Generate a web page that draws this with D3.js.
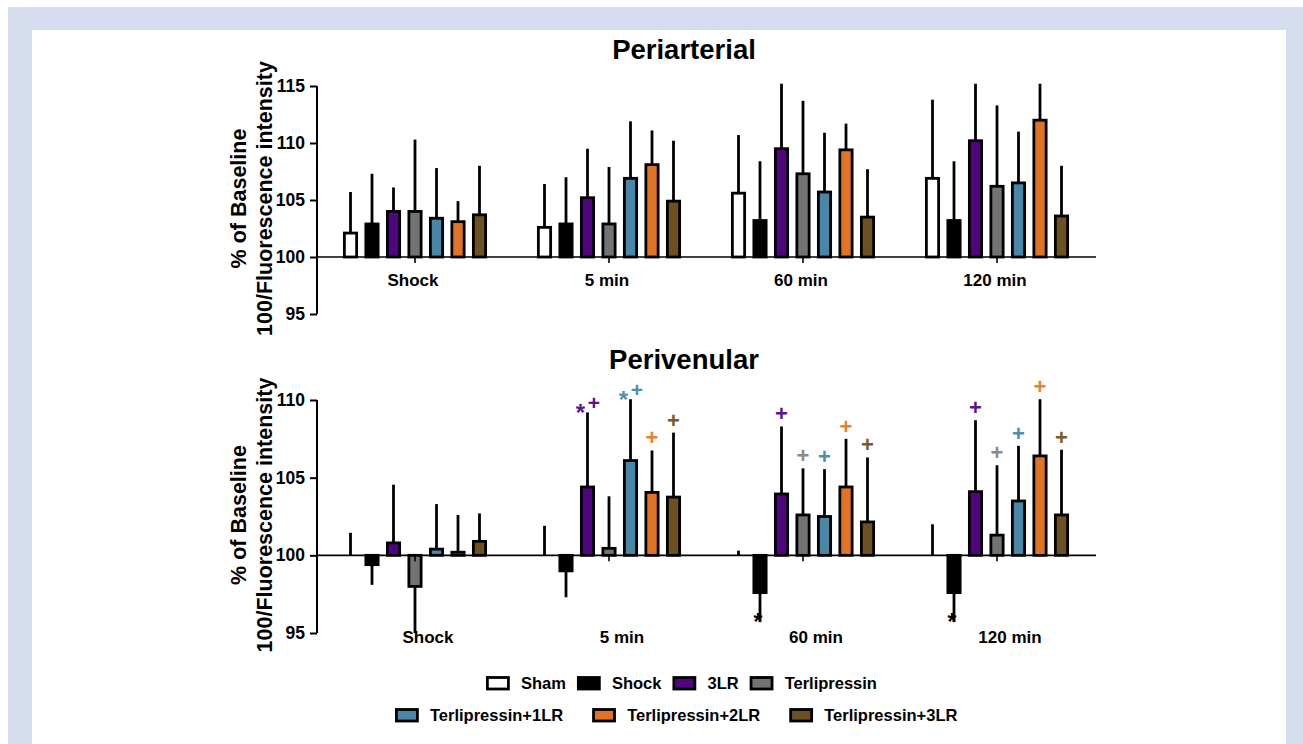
<!DOCTYPE html>
<html>
<head>
<meta charset="utf-8">
<script src="https://cdn.jsdelivr.net/npm/d3@7"></script>
<style>
  body { margin: 0; background: #fff; }
  text { font-family: "Liberation Sans", Arial, sans-serif; font-weight: bold; fill: #000; }
</style>
</head>
<body>
<div id="chart"></div>
<script>
// groups and series
const groups = ["Shock", "5 min", "60 min", "120 min"];
const series = ["Sham", "Shock", "3LR", "Terlipressin", "Terlipressin+1LR", "Terlipressin+2LR", "Terlipressin+3LR"];
const colors = ["#ffffff", "#000000", "#4f0580", "#737373", "#4a87a6", "#e07424", "#6e5122"];
const markColors = ["#000000", "#000000", "#5a1390", "#8a8a8a", "#4f8eb0", "#e8802e", "#7a5a26"];

// Periarterial: mean and error, one row per group
const artMean = [
  [102.1, 102.9, 104.0, 104.0, 103.4, 103.1, 103.7],
  [102.6, 102.9, 105.2, 102.9, 106.9, 108.1, 104.9],
  [105.6, 103.2, 109.5, 107.3, 105.7, 109.4, 103.5],
  [106.9, 103.2, 110.2, 106.2, 106.5, 112.0, 103.6]
];
const artErr = [
  [3.6, 4.4, 2.1, 6.3, 4.4, 1.8, 4.3],
  [3.8, 4.1, 4.3, 5.0, 5.0, 3.0, 5.3],
  [5.1, 5.2, 5.7, 6.4, 5.2, 2.3, 4.2],
  [6.9, 5.2, 5.0, 7.1, 4.5, 3.2, 4.4]
];

// Perivenular
const venMean = [
  [100, 99.4, 100.8, 98.0, 100.4, 100.2, 100.9],
  [100, 99.0, 104.4, 100.45, 106.1, 104.05, 103.75],
  [100, 97.6, 103.95, 102.6, 102.5, 104.4, 102.15],
  [100, 97.6, 104.1, 101.3, 103.5, 106.4, 102.6]
];
const venErr = [
  [1.45, 1.3, 3.75, 3.0, 2.9, 2.4, 1.8],
  [1.9, 1.7, 4.8, 3.35, 3.95, 2.7, 4.15],
  [0.3, 1.9, 4.35, 3.0, 3.05, 3.1, 4.15],
  [2.0, 1.9, 4.6, 4.5, 3.55, 3.65, 4.2]
];
// significance marks (group index, series index, text)
const venMarks = [
  [1, 2, "*+"], [1, 4, "*+"], [1, 5, "+"], [1, 6, "+"],
  [2, 1, "*"], [2, 2, "+"], [2, 3, "+"], [2, 4, "+"], [2, 5, "+"], [2, 6, "+"],
  [3, 1, "*"], [3, 2, "+"], [3, 3, "+"], [3, 4, "+"], [3, 5, "+"], [3, 6, "+"]
];

const artTicks = [95, 100, 105, 110, 115];
const venTicks = [95, 100, 105, 110];

const width = 1303, height = 744;
const svg = d3.select('#chart').append('svg')
  .attr('width', width)
  .attr('height', height);

// page frame
svg.append('rect').attr('x', 8).attr('y', 7).attr('width', width - 8).attr('height', height - 7).attr('fill', '#d5ddee');
svg.append('rect').attr('x', 32).attr('y', 30).attr('width', 1254).attr('height', height - 30).attr('fill', '#ffffff');

const x0 = d3.scaleBand().domain(groups).range([318, 1094]).padding(0);
const x1 = d3.scaleBand().domain(series).range([-75.25, 75.25]).paddingInner(0.3).paddingOuter(0.15);

function drawPanel(opts) {
  const g = svg.append('g');
  const y = d3.scaleLinear().domain(opts.domain).range(opts.range);

  g.append('text').attr('x', 684).attr('y', opts.titleY)
    .attr('text-anchor', 'middle').style('font-size', '27.5px').text(opts.title);

  // y axis
  const ya = g.append('g').attr('transform', 'translate(317,0)')
    .call(d3.axisLeft(y).tickValues(opts.ticks).tickSize(7).tickPadding(5).tickFormat(d3.format('d')));
  ya.select('.domain').attr('stroke', '#000').attr('stroke-width', 2).attr('d', `M0,${y(opts.domain[0])}V${y(opts.domain[1])}`);
  ya.selectAll('.tick line').attr('stroke', '#000').attr('stroke-width', 2);
  ya.selectAll('.tick text').style('font-size', '17.5px').style('font-family', '"Liberation Sans", Arial, sans-serif').style('font-weight', 'bold');

  // y title
  const cy = (opts.range[0] + opts.range[1]) / 2 - 1.5;
  g.append('text').attr('transform', `translate(246,${cy}) rotate(-90)`)
    .attr('text-anchor', 'middle').style('font-size', '21.5px').text('% of Baseline');
  g.append('text').attr('transform', `translate(272,${cy}) rotate(-90)`)
    .attr('text-anchor', 'middle').style('font-size', '21.5px').text('100/Fluorescence intensity');

  // bars
  opts.mean.forEach((row, gi) => {
    const gx = x0(groups[gi]) + x0.bandwidth() / 2;
    row.forEach((m, si) => {
      const cx = gx + x1(series[si]) + x1.bandwidth() / 2;
      const e = opts.err[gi][si];
      const tip = m >= 100 ? m + e : m - e;
      g.append('line').attr('x1', cx).attr('x2', cx)
        .attr('y1', y(m)).attr('y2', y(tip))
        .attr('stroke', '#000').attr('stroke-width', 2.8);
      if (Math.abs(m - 100) > 0.01) {
        const top = Math.min(y(m), y(100));
        g.append('rect').attr('x', cx - x1.bandwidth() / 2 + 1.4).attr('y', top)
          .attr('width', x1.bandwidth() - 2.8).attr('height', Math.abs(y(m) - y(100)))
          .attr('fill', colors[si]).attr('stroke', '#000').attr('stroke-width', 2.8);
      }
    });
  });

  // x axis at 100
  const xa = g.append('g').attr('transform', `translate(0,${y(100)})`)
    .call(d3.axisBottom(x0).tickSize(6).tickSizeOuter(0).tickFormat(''));
  xa.select('.domain').attr('stroke', '#000').attr('stroke-width', 1.6).attr('d', `M317,0H1096`);
  xa.selectAll('.tick line').attr('stroke', '#000').attr('stroke-width', 1.6);

  groups.forEach(gr => {
    g.append('text').attr('x', x0(gr) + x0.bandwidth() / 2 + opts.labelDx).attr('y', opts.labelY)
      .attr('text-anchor', 'middle').style('font-size', '17px').text(gr);
  });

  return { g, y };
}

drawPanel({ title: 'Periarterial', titleY: 59, domain: [95, 115], range: [314, 86], ticks: artTicks,
  mean: artMean, err: artErr, labelY: 286, labelDx: -2 });

const ven = drawPanel({ title: 'Perivenular', titleY: 369, domain: [95, 110], range: [633, 400], ticks: venTicks,
  mean: venMean, err: venErr, labelY: 643, labelDx: 13 });

// significance marks
venMarks.forEach(([gi, si, t]) => {
  const m = venMean[gi][si], e = venErr[gi][si];
  const cx = x0(groups[gi]) + x0.bandwidth() / 2 + x1(series[si]) + x1.bandwidth() / 2;
  const col = markColors[si];
  if (m < 100) {
    ven.g.append('text').attr('x', cx - 2).attr('y', ven.y(m - e) + 8)
      .attr('text-anchor', 'middle').style('font-size', '23px').style('fill', col).text(t);
  } else if (t === '*+') {
    const tip = ven.y(m + e);
    ven.g.append('text').attr('x', cx - 7).attr('y', tip + 9)
      .attr('text-anchor', 'middle').style('font-size', '24px').style('fill', col).text('*');
    ven.g.append('text').attr('x', cx + 6.5).attr('y', tip - 2.5)
      .attr('text-anchor', 'middle').style('font-size', '21px').style('fill', col).text('+');
  } else {
    ven.g.append('text').attr('x', cx).attr('y', ven.y(m + e) - 5)
      .attr('text-anchor', 'middle').style('font-size', '22px').style('fill', col).text(t);
  }
});

// legend
const legendRows = [
  { items: [0, 1, 2, 3], x: 486, y: 689, gap: 11 },
  { items: [4, 5, 6], x: 395, y: 721, gap: 29 }
];
legendRows.forEach(row => {
  let x = row.x;
  row.items.forEach(si => {
    svg.append('rect').attr('x', x + 1.4).attr('y', row.y - 11.5).attr('width', 21).attr('height', 11.5)
      .attr('fill', colors[si]).attr('stroke', '#000').attr('stroke-width', 2.8);
    const t = svg.append('text').attr('x', x + 35).attr('y', row.y).style('font-size', '16.5px').text(series[si]);
    x += 35 + t.node().getComputedTextLength() + row.gap;
  });
});
</script>
</body>
</html>
